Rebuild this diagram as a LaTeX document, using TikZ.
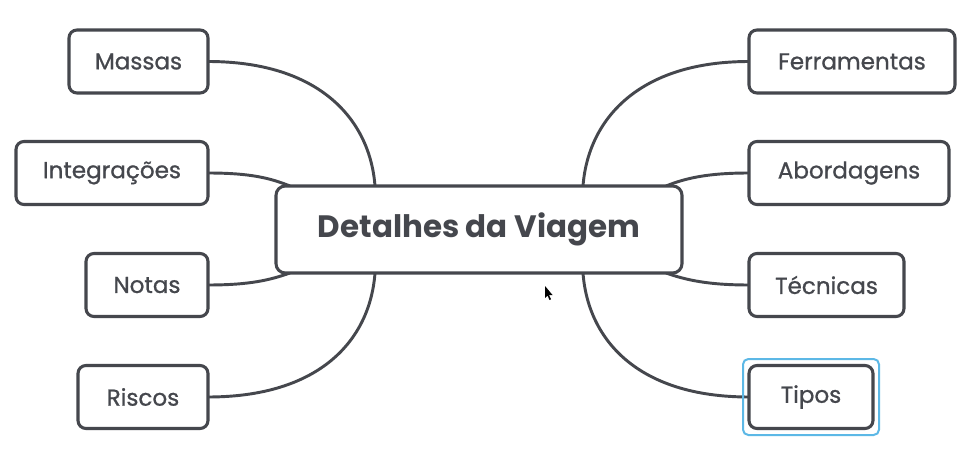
\documentclass[tikz,border=0pt]{standalone}
\usepackage{fontspec}
\setmainfont{Poppins}
\newfontfamily\leaffont{Poppins}[FakeBold=0.9]
\definecolor{ink}{HTML}{45474D}
\definecolor{sel}{HTML}{5CB8E6}
\tikzset{
  leaf/.style={draw=ink, line width=2.3pt, rounded corners=6pt, fill=white, text=ink, font=\leaffont\fontsize{17.3}{20}\selectfont, inner sep=0pt, anchor=center},
  hub/.style={draw=ink, line width=2.3pt, rounded corners=7pt, fill=white, text=ink, font=\fontsize{23.2}{28}\selectfont\bfseries, inner sep=0pt},
  link/.style={draw=ink, line width=2.2pt},
}
\begin{document}
\begin{tikzpicture}[x=0.75pt,y=-0.75pt]
\useasboundingbox[fill=white] (0,0) rectangle (967,456);
% connectors first
\coordinate (cMa) at (375,186);
\coordinate (cIn) at (290,186);
\coordinate (cNo) at (290,273);
\coordinate (cRi) at (375,273);
\coordinate (cFe) at (583,186);
\coordinate (cAb) at (666,186);
\coordinate (cTe) at (666,273);
\coordinate (cTi) at (583,273);
\coordinate (eMa) at (208,61.5);
\coordinate (eIn) at (208,173);
\coordinate (eNo) at (208,285);
\coordinate (eRi) at (208,397);
\coordinate (eFe) at (749,61.5);
\coordinate (eAb) at (749,173);
\coordinate (eTe) at (749,285);
\coordinate (eTi) at (749,397);
\draw[link] (eMa) .. controls (320,61.5) and (370,120) .. (cMa);
\draw[link] (eIn) .. controls (250,173) and (270,178) .. (cIn);
\draw[link] (eNo) .. controls (250,285) and (270,280) .. (cNo);
\draw[link] (eRi) .. controls (320,397) and (370,340) .. (cRi);
\draw[link] (eFe) .. controls (638,61.5) and (588,120) .. (cFe);
\draw[link] (eAb) .. controls (708,173) and (686,178) .. (cAb);
\draw[link] (eTe) .. controls (708,285) and (686,280) .. (cTe);
\draw[link] (eTi) .. controls (638,397) and (588,340) .. (cTi);
% hub
\node[hub, minimum width=406*0.75pt, minimum height=87*0.75pt] (hub) at (479,229.5) {Detalhes da Viagem};
% left leaves
\node[leaf, minimum width=139*0.75pt, minimum height=63*0.75pt] (ma) at (138.5,61.5) {Massas};
\node[leaf, minimum width=192*0.75pt, minimum height=63*0.75pt] (in) at (112,173) {Integrações};
\node[leaf, minimum width=122*0.75pt, minimum height=63*0.75pt] (no) at (147,285) {Notas};
\node[leaf, minimum width=130*0.75pt, minimum height=63*0.75pt] (ri) at (143,397) {Riscos};
% right leaves
\node[leaf, minimum width=206*0.75pt, minimum height=63*0.75pt] (fe) at (852,61.5) {Ferramentas};
\node[leaf, minimum width=200*0.75pt, minimum height=63*0.75pt] (ab) at (849,173) {Abordagens};
\node[leaf, minimum width=155*0.75pt, minimum height=63*0.75pt] (te) at (826.5,285) {Técnicas};
\node[draw=sel, line width=1.5pt, rounded corners=4pt, minimum width=136*0.75pt, minimum height=76*0.75pt, inner sep=0pt] (tisel) at (811,397) {};
\node[leaf, minimum width=124*0.75pt, minimum height=63*0.75pt] (ti) at (811,397) {Tipos};
% cursor
\fill[black] (545,286) -- (545,298) -- (547.5,295.5) -- (549.5,300) -- (551,299.3) -- (549,295) -- (552.5,295) -- cycle;
\end{tikzpicture}
\end{document}
